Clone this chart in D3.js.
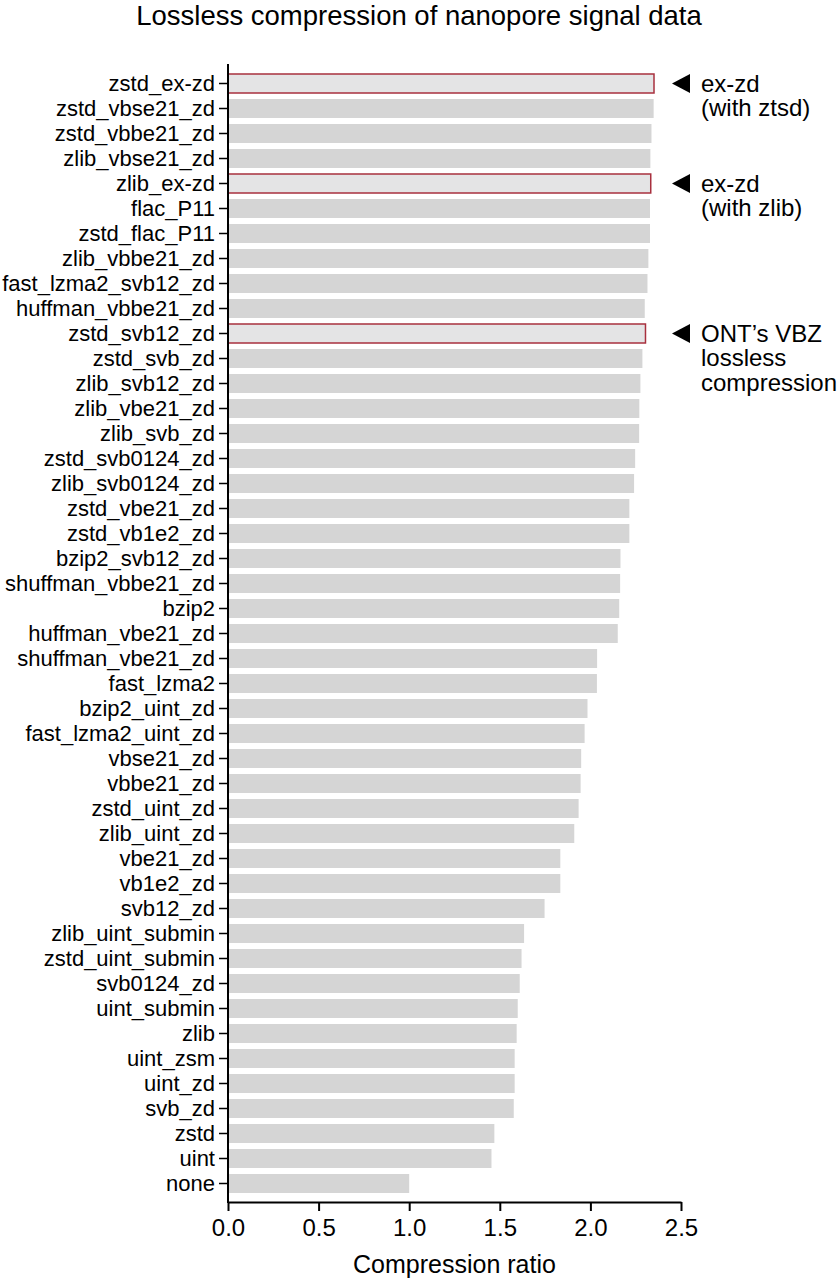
<!DOCTYPE html>
<html>
<head>
<meta charset="utf-8">
<script src="https://d3js.org/d3.v7.min.js"></script>
<style>
  body { margin: 0; background: #fff; }
  svg { display: block; font-family: "Liberation Sans", Arial, Helvetica, sans-serif; }
</style>
</head>
<body>
<div id="graph"></div>
<script>
// compression methods, best first
var methods = [
    "zstd_ex-zd", "zstd_vbse21_zd", "zstd_vbbe21_zd", "zlib_vbse21_zd", "zlib_ex-zd",
    "flac_P11", "zstd_flac_P11", "zlib_vbbe21_zd", "fast_lzma2_svb12_zd", "huffman_vbbe21_zd",
    "zstd_svb12_zd", "zstd_svb_zd", "zlib_svb12_zd", "zlib_vbe21_zd", "zlib_svb_zd",
    "zstd_svb0124_zd", "zlib_svb0124_zd", "zstd_vbe21_zd", "zstd_vb1e2_zd", "bzip2_svb12_zd",
    "shuffman_vbbe21_zd", "bzip2", "huffman_vbe21_zd", "shuffman_vbe21_zd", "fast_lzma2",
    "bzip2_uint_zd", "fast_lzma2_uint_zd", "vbse21_zd", "vbbe21_zd", "zstd_uint_zd",
    "zlib_uint_zd", "vbe21_zd", "vb1e2_zd", "svb12_zd", "zlib_uint_submin",
    "zstd_uint_submin", "svb0124_zd", "uint_submin", "zlib", "uint_zsm",
    "uint_zd", "svb_zd", "zstd", "uint", "none"
];

// compression ratio
var ratios = [
    2.351, 2.349, 2.337, 2.331, 2.333,
    2.329, 2.329, 2.320, 2.315, 2.300,
    2.304, 2.287, 2.276, 2.270, 2.269,
    2.247, 2.241, 2.215, 2.215, 2.166,
    2.164, 2.159, 2.151, 2.037, 2.036,
    1.984, 1.968, 1.949, 1.946, 1.935,
    1.911, 1.834, 1.834, 1.747, 1.634,
    1.620, 1.610, 1.599, 1.593, 1.582,
    1.582, 1.577, 1.470, 1.454, 1.000
];

var xTicks = [0, 0.5, 1, 1.5, 2, 2.5];

// outlined bars and the notes beside them
var noteMethods = ["zstd_ex-zd", "zlib_ex-zd", "zstd_svb12_zd"];
var noteLines = [
    ["ex-zd", "(with ztsd)"],
    ["ex-zd", "(with zlib)"],
    ["ONT\u2019s VBZ", "lossless", "compression"]
];

var width = 838;
var height = 1280;
var margin = {left: 228, right: 157, top: 71, bottom: 84};

var data = methods.map(function(m, i) {
    return {method: m, ratio: ratios[i], marked: noteMethods.indexOf(m) >= 0};
});

var svg = d3.select('#graph')
    .append('svg')
    .attr('width', width)
    .attr('height', height);

var xScale = d3.scaleLinear()
    .domain([0, 2.5])
    .range([margin.left, width - margin.right]);

var yScale = d3.scaleBand()
    .domain(methods)
    .range([margin.top, height - margin.bottom])
    .paddingInner(0.24)
    .paddingOuter(0.12);

// title
svg.append('text')
    .attr('x', 419)
    .attr('y', 25)
    .attr('text-anchor', 'middle')
    .attr('font-size', 27.5)
    .attr('fill', '#000')
    .text('Lossless compression of nanopore signal data');

// bars
svg.append('g')
    .selectAll('.bar')
    .data(data)
    .enter()
    .append('rect')
    .attr('class', 'bar')
    .attr('x', xScale(0))
    .attr('y', function(d) { return yScale(d.method); })
    .attr('width', function(d) { return xScale(d.ratio) - xScale(0); })
    .attr('height', yScale.bandwidth())
    .attr('fill', function(d) { return d.marked ? '#e4e4e5' : '#d5d5d5'; })
    .attr('stroke', function(d) { return d.marked ? '#a8303e' : 'none'; })
    .attr('stroke-width', 1.5);

// y axis
var yAxis = svg.append('g')
    .attr('class', 'y axis')
    .attr('transform', 'translate(' + margin.left + ',0)')
    .call(d3.axisLeft(yScale).tickSize(9).tickPadding(4).tickSizeOuter(0));
yAxis.select('.domain').remove();
yAxis.append('line')
    .attr('x1', 0).attr('x2', 0)
    .attr('y1', 64).attr('y2', 1203)
    .attr('stroke', '#000').attr('stroke-width', 2);
yAxis.selectAll('.tick line').attr('stroke', '#000').attr('stroke-width', 1.5);
yAxis.selectAll('.tick text')
    .attr('font-size', 22)
    .attr('font-family', '"Liberation Sans", Arial, sans-serif')
    .attr('fill', '#000');

// x axis
var xAxis = svg.append('g')
    .attr('class', 'x axis')
    .attr('transform', 'translate(0,1202)')
    .call(d3.axisBottom(xScale).tickValues(xTicks).tickFormat(d3.format('.1f'))
        .tickSize(9).tickPadding(8).tickSizeOuter(0));
xAxis.select('.domain').attr('stroke', '#000').attr('stroke-width', 2);
xAxis.selectAll('.tick line').attr('stroke', '#000').attr('stroke-width', 2);
xAxis.selectAll('.tick text')
    .attr('font-size', 24)
    .attr('font-family', '"Liberation Sans", Arial, sans-serif')
    .attr('fill', '#000');

svg.append('text')
    .attr('x', xScale(1.25))
    .attr('y', 1273)
    .attr('text-anchor', 'middle')
    .attr('font-size', 25)
    .attr('fill', '#000')
    .text('Compression ratio');

// notes: arrow + text
var notes = svg.append('g');
noteMethods.forEach(function(m, i) {
    var cy = yScale(m) + yScale.bandwidth() / 2;
    var tip = xScale(2.5) - 9;
    notes.append('path')
        .attr('d', 'M' + tip + ',' + cy + 'L' + (tip + 18) + ',' + (cy - 9.5) + 'L' + (tip + 18) + ',' + (cy + 9.5) + 'Z')
        .attr('fill', '#000');
    var t = notes.append('text')
        .attr('x', tip + 29)
        .attr('y', cy + 8)
        .attr('font-size', 24)
        .attr('fill', '#000');
    noteLines[i].forEach(function(line, j) {
        t.append('tspan')
            .attr('x', tip + 29)
            .attr('dy', j === 0 ? 0 : 24.5)
            .text(line);
    });
});
</script>
</body>
</html>
